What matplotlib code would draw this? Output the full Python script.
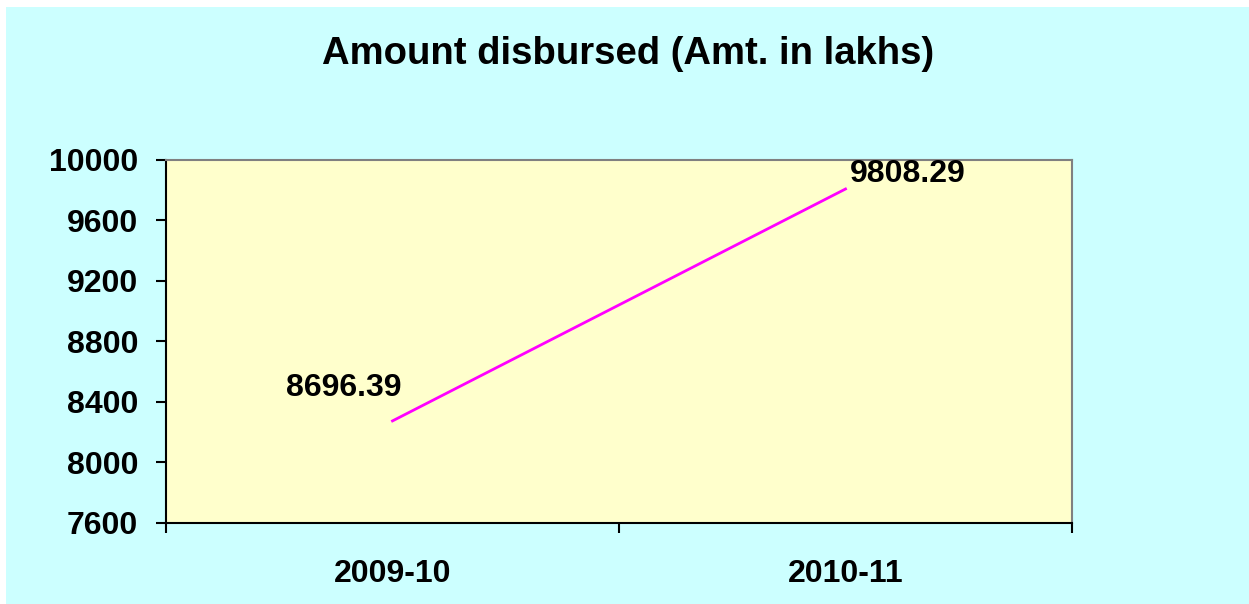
import numpy as np
import matplotlib.pyplot as plt
from matplotlib.patches import Rectangle

# データ
years = ['2009-10', '2010-11']
line_values = [8275, 9808.29]          # 線の位置
value_labels = ['8696.39', '9808.29']  # データラベル
y_ticks = [7600, 8000, 8400, 8800, 9200, 9600, 10000]

plt.rcParams['font.family'] = ['Liberation Sans', 'DejaVu Sans']
plt.rcParams['font.weight'] = 'bold'

fig = plt.figure(figsize=(12.49, 6.04), dpi=100)
fig.patch.set_facecolor('white')
# 背景(左上に白い余白あり)
fig.patches.append(Rectangle((6 / 1249, 0), 1, 1 - 7 / 604, transform=fig.transFigure,
                             facecolor='#CCFFFF', edgecolor='none', zorder=-10))

ax = fig.add_axes([166 / 1249, 81 / 604, 906 / 1249, 363 / 604])
ax.set_facecolor('#FFFFCC')

x = np.arange(len(years)) + 0.5
ax.plot(x, line_values, color='#FF00FF', lw=2)

offsets = [(-35, 24), (45, 11)]
for xi, yi, lab, off in zip(x, line_values, value_labels, offsets):
    ax.annotate(lab, (xi, yi), xytext=off, textcoords='offset points',
                ha='center', va='center', fontsize=23, fontweight='bold')

ax.set_xlim(0, len(years))
ax.set_ylim(7600, 10000)
ax.set_yticks(y_ticks)
ax.set_yticklabels([str(v) for v in y_ticks], fontsize=23, fontweight='bold')
ax.set_xticks([0, 1, 2])
ax.set_xticklabels([])
ax.set_xticks(x, minor=True)
ax.set_xticklabels(years, minor=True, fontsize=23, fontweight='bold')
ax.tick_params(axis='x', which='minor', length=0, pad=26)
ax.tick_params(axis='both', which='major', direction='out', length=7, width=1.5, color='black')
ax.tick_params(axis='y', pad=13)

ax.spines['left'].set_color('black')
ax.spines['bottom'].set_color('black')
ax.spines['left'].set_linewidth(1.5)
ax.spines['bottom'].set_linewidth(1.5)
ax.spines['top'].set_color('#808080')
ax.spines['right'].set_color('#808080')
ax.spines['top'].set_linewidth(1.5)
ax.spines['right'].set_linewidth(1.5)

fig.text(628 / 1249, 1 - 54 / 604, 'Amount disbursed (Amt. in lakhs)', ha='center', va='center',
         fontsize=27.5, fontweight='bold')

plt.savefig('out.png', dpi=100, facecolor=fig.get_facecolor())
